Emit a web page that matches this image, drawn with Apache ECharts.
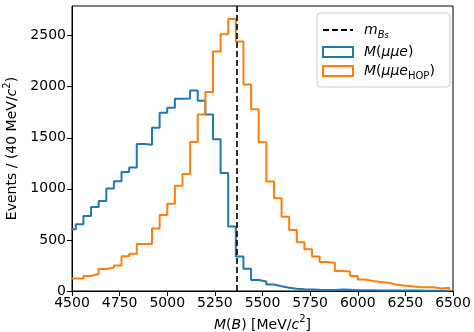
<!DOCTYPE html>
<html>
<head>
<meta charset="utf-8">
<script src="https://cdn.jsdelivr.net/npm/echarts@6/dist/echarts.min.js"></script>
<style>
  html, body { margin: 0; padding: 0; background: #fff; }
  #main { width: 474px; height: 332px; }
</style>
</head>
<body>
<div id="main"></div>
<script>
// histogram binning (40 MeV bins)
const BIN_START = 4480;
const BIN_WIDTH = 40;
const M_BS = 5366.9;

// counts per bin
const countsMuMuE = [
  604, 653, 734, 823, 882, 1003, 1075, 1164, 1210, 1440,
  1432, 1597, 1744, 1793, 1882, 1885, 1963, 1862, 1727, 1486,
  1154, 632, 338, 218, 108, 93, 63, 46, 31, 22,
  17, 15, 12, 10, 9, 15, 12, 8, 8, 7,
  6, 6, 5, 5, 4, 4, 3, 3, 3, 2
];
const countsMuMuEHop = [
  122, 122, 148, 167, 216, 230, 250, 341, 364, 459,
  459, 612, 744, 853, 1030, 1145, 1458, 1727, 1947, 2344,
  2514, 2662, 2442, 2022, 1780, 1455, 1072, 908, 728, 597,
  477, 408, 338, 285, 277, 195, 192, 148, 112, 99,
  89, 80, 63, 53, 46, 38, 37, 36, 24, 32
];

const xTicks = [4500, 4750, 5000, 5250, 5500, 5750, 6000, 6250, 6500];
const yTicks = [0, 500, 1000, 1500, 2000, 2500];

const FONT = 'DejaVu Sans';

// turn bin counts into step points: [left edge, count] ... [last right edge, 0]
function stepPoints(counts) {
  const pts = counts.map((c, i) => [BIN_START + i * BIN_WIDTH, c]);
  const end = BIN_START + counts.length * BIN_WIDTH;
  pts.push([end, counts[counts.length - 1]]);
  pts.push([end, 0]);
  return pts;
}

const rich = {
  n: { fontFamily: FONT, fontSize: 14, color: '#000', lineHeight: 20, verticalAlign: 'middle' },
  it: { fontFamily: FONT, fontSize: 14, color: '#000', fontStyle: 'italic', lineHeight: 20, verticalAlign: 'middle' },
  sub: { fontFamily: FONT, fontSize: 10, color: '#000', lineHeight: 12, verticalAlign: 'bottom' },
  subit: { fontFamily: FONT, fontSize: 10, color: '#000', fontStyle: 'italic', lineHeight: 12, verticalAlign: 'bottom' },
  ss: { fontFamily: FONT, fontSize: 8, color: '#000', fontStyle: 'italic', lineHeight: 6, verticalAlign: 'bottom' },
  sup: { fontFamily: FONT, fontSize: 10, color: '#000', lineHeight: 10, verticalAlign: 'top' }
};

const chart = echarts.init(document.getElementById('main'), null, { renderer: 'canvas' });

const option = {
  animation: false,
  backgroundColor: '#fff',
  textStyle: { fontFamily: FONT },
  grid: {
    left: 72, right: 21, top: 6, bottom: 41,
    outerBoundsMode: 'none',
    containLabel: false,
    show: true, borderColor: '#000', borderWidth: 1, backgroundColor: 'transparent'
  },
  legend: {
    orient: 'vertical',
    left: 317, top: 13,
    padding: [10, 15, 6, 5],
    itemWidth: 30, itemHeight: 10, itemGap: 5,
    backgroundColor: 'rgba(255,255,255,0.8)',
    borderColor: '#ccc', borderWidth: 1, borderRadius: 3,
    textStyle: { fontFamily: FONT, fontSize: 14, color: '#000', padding: [0, 0, 0, 6], rich: rich },
    data: [
      { name: 'mBs', itemStyle: { color: 'rgba(0,0,0,0)', borderWidth: 0 }, lineStyle: { color: '#000', width: 2, type: [6, 3] } },
      { name: 'mumue', icon: 'rect', itemStyle: { color: 'rgba(0,0,0,0)', borderColor: '#1f77b4', borderWidth: 2 } },
      { name: 'mumueHop', icon: 'rect', itemStyle: { color: 'rgba(0,0,0,0)', borderColor: '#ff7f0e', borderWidth: 2 } }
    ],
    formatter: function (name) {
      if (name === 'mBs') return '{it|m}{subit|B}{ss|s}';
      if (name === 'mumue') return '{it|M}{n|(}{it|μμe}{n|)}';
      return '{it|M}{n|(}{it|μμe}{sub|HOP}{n|)}';
    }
  },
  xAxis: {
    type: 'value',
    min: 4500, max: 6500,
    name: '{it|M}{n|(}{it|B}{n|) [MeV/}{it|c}{sup|2}{n|]}',
    nameLocation: 'middle', nameGap: 22,
    nameTextStyle: { rich: rich },
    axisLine: { show: true, onZero: false, lineStyle: { color: '#000', width: 1 } },
    axisTick: { show: true, customValues: xTicks, length: 5, inside: false, lineStyle: { color: '#000', width: 1 } },
    axisLabel: { customValues: xTicks, fontFamily: FONT, fontSize: 14, color: '#000', margin: 5, formatter: v => String(v) },
    splitLine: { show: false }
  },
  yAxis: {
    type: 'value',
    min: 0, max: 2790,
    name: '{n|Events / (40 MeV/}{it|c}{sup|2}{n|)}',
    nameLocation: 'middle', nameGap: 45, nameRotate: 90,
    nameTextStyle: { rich: rich },
    axisLine: { show: true, lineStyle: { color: '#000', width: 1 } },
    axisTick: { show: true, customValues: yTicks, length: 5, lineStyle: { color: '#000', width: 1 } },
    axisLabel: { customValues: yTicks, fontFamily: FONT, fontSize: 14, color: '#000', margin: 6, formatter: v => String(v) },
    splitLine: { show: false }
  },
  series: [
    {
      name: 'mBs',
      type: 'line',
      data: [],
      symbol: 'none',
      showSymbol: false,
      color: '#000',
      lineStyle: { color: '#000', width: 2, type: [6, 3] },
      markLine: {
        silent: true,
        symbol: 'none',
        label: { show: false },
        lineStyle: { color: '#000', width: 1.6, type: [6, 3] },
        data: [{ xAxis: M_BS }]
      }
    },
    {
      name: 'mumue',
      type: 'line',
      step: 'end',
      symbol: 'none',
      color: '#1f77b4',
      lineStyle: { color: '#1f77b4', width: 2 },
      data: stepPoints(countsMuMuE)
    },
    {
      name: 'mumueHop',
      type: 'line',
      step: 'end',
      symbol: 'none',
      color: '#ff7f0e',
      lineStyle: { color: '#ff7f0e', width: 2 },
      data: stepPoints(countsMuMuEHop)
    }
  ]
};

chart.setOption(option);
</script>
</body>
</html>
